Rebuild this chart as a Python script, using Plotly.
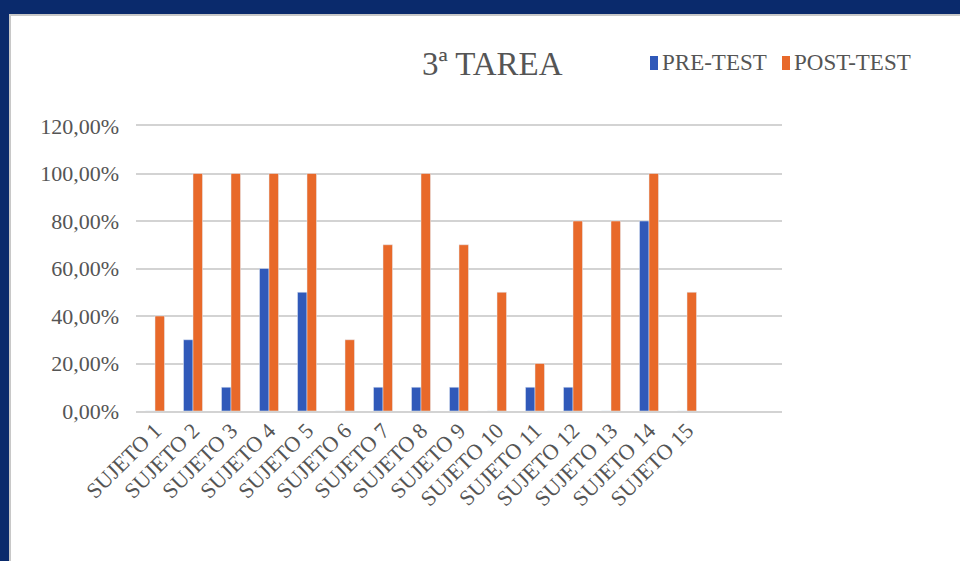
import plotly.graph_objects as go

sujetos = [f"SUJETO {i}" for i in range(1, 16)]
pre_test = [0.0, 0.30, 0.10, 0.60, 0.50, 0.0, 0.10, 0.10, 0.10, 0.0, 0.10, 0.10, 0.0, 0.80, 0.0]
post_test = [0.40, 1.00, 1.00, 1.00, 1.00, 0.30, 0.70, 1.00, 0.70, 0.50, 0.20, 0.80, 0.80, 1.00, 0.50]

AZUL = "#3059B9"
NARANJA = "#E8692A"
GRIS = "#555555"
FUENTE = "Liberation Serif"

# geometria del area de trazado (px) para convertir a coords paper
L, R, T, B = 136, 782, 126, 411
W, H = R - L, B - T


def px(x):
    return (x - L) / W


def py(y):
    return (B - y) / H


fig = go.Figure()
fig.add_trace(go.Bar(x=sujetos, y=pre_test, name="PRE-TEST", marker_color=AZUL))
fig.add_trace(go.Bar(x=sujetos, y=post_test, name="POST-TEST", marker_color=NARANJA))

# panel blanco sobre fondo azul marino
fig.add_shape(type="rect", xref="paper", yref="paper",
              x0=px(10), x1=px(1000), y0=py(600), y1=py(15),
              fillcolor="white", line=dict(color="#c8c8c8", width=2), layer="below")

fig.add_annotation(text="3ª TAREA", xref="paper", yref="paper",
                   x=px(492), y=py(64), xanchor="center", yanchor="middle", showarrow=False,
                   font=dict(family=FUENTE, size=33, color=GRIS))

# leyenda dibujada a mano (cuadro pequeño pegado al texto)
for nombre, color, x0 in [("PRE-TEST", AZUL, 650), ("POST-TEST", NARANJA, 782)]:
    fig.add_shape(type="rect", xref="paper", yref="paper",
                  x0=px(x0), x1=px(x0 + 8), y0=py(70), y1=py(56),
                  fillcolor=color, line=dict(width=0))
    fig.add_annotation(text=nombre, xref="paper", yref="paper",
                       x=px(x0 + 10), y=py(63), xanchor="left", yanchor="middle", showarrow=False,
                       font=dict(family=FUENTE, size=23, color=GRIS))

fig.update_layout(
    width=960, height=561,
    margin=dict(l=L, r=960 - R, t=T, b=561 - B),
    paper_bgcolor="#0A2A6C",
    plot_bgcolor="white",
    barmode="group",
    bargap=0.5,
    bargroupgap=0.0,
    separators=",.",
    font=dict(family=FUENTE, color=GRIS),
    showlegend=False,
    xaxis=dict(range=[-0.5, 16.5], tickangle=-45, showgrid=False, ticks="",
               tickfont=dict(family=FUENTE, size=22, color=GRIS), ticklabelstandoff=-4,
               showline=True, mirror=True, linecolor="#d3d3d3", linewidth=2, zeroline=False),
    yaxis=dict(range=[0, 1.2], dtick=0.2, tickformat=".2%",
               gridcolor="#d3d3d3", gridwidth=2, zeroline=False, showline=False,
               ticks="", ticklabelstandoff=16,
               tickfont=dict(family=FUENTE, size=22, color=GRIS)),
)

fig.write_html("out.html", config={"displayModeBar": False}, post_script=(
    "document.body.style.margin='0';document.body.style.overflow='hidden';"
    "document.body.style.background='#0A2A6C';"))
